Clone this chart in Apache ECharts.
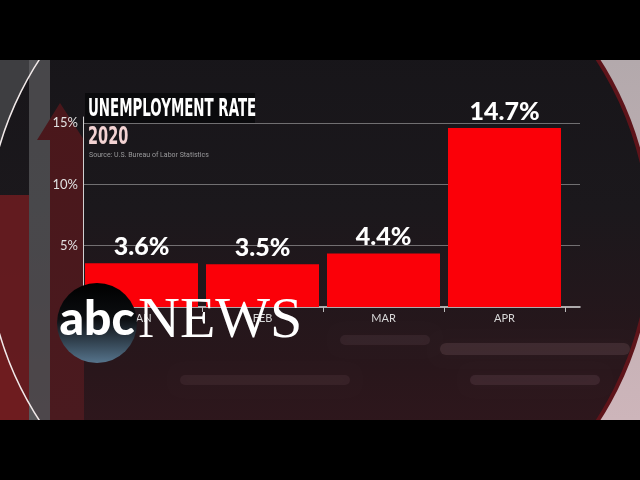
<!DOCTYPE html>
<html><head><meta charset="utf-8">
<script src="https://cdn.jsdelivr.net/npm/echarts@6/dist/echarts.min.js"></script>
<style>html,body{margin:0;padding:0;background:#000}#c{width:640px;height:480px}</style>
</head><body><div id="c"></div>
<script>
const categories = ['JAN', 'FEB', 'MAR', 'APR'];
const rates = [3.6, 3.5, 4.4, 14.7];
const yMax = 15.5;
const yInterval = 5;
const titleText = 'UNEMPLOYMENT RATE';
const yearText = '2020';
const sourceText = 'Source: U.S. Bureau of Labor Statistics';

const chart = echarts.init(document.getElementById('c'), null, {renderer: 'canvas'});

const bg = [
  {type: 'rect', z: -20, shape: {x: 0, y: 0, width: 640, height: 480}, style: {fill: '#000'}},
  {type: 'rect', z: -19, shape: {x: 0, y: 60, width: 320, height: 360}, style: {fill: '#3e3e41'}},
  {type: 'rect', z: -19, shape: {x: 320, y: 60, width: 320, height: 360}, style: {
    fill: new echarts.graphic.LinearGradient(0, 0, 0, 1, [
      {offset: 0, color: '#b3a9ac'}, {offset: 1, color: '#cdb5ba'}])}},
  {type: 'rect', z: -18, shape: {x: 0, y: 195, width: 30, height: 225}, style: {fill: '#6e1c20'}},
  {type: 'polygon', z: -18, shape: {points: [[10, 170], [-25, 210], [42, 210]]}, style: {fill: '#6e1c20'}},
  {type: 'rect', z: -18, shape: {x: 29, y: 60, width: 21, height: 360}, style: {fill: '#58585b'}},
  {type: 'circle', z: -17, shape: {cx: 318, cy: 240, r: 332}, style: {
    fill: new echarts.graphic.LinearGradient(0, 0, 0, 1, [
      {offset: 0, color: '#141317'}, {offset: 0.45, color: '#1b181c'},
      {offset: 0.7, color: '#29161b'}, {offset: 1, color: '#3c1920'}])}},
  {type: 'rect', z: -16.5, shape: {x: 29, y: 60, width: 21, height: 360}, style: {fill: 'rgba(88,88,91,0.75)'}},
  {type: 'rect', z: -16.5, shape: {x: 0, y: 195, width: 29, height: 225}, style: {fill: 'rgba(110,28,32,0.85)'}},
  {type: 'arc', z: -16, shape: {cx: 318, cy: 240, r: 332, startAngle: Math.PI * 0.55, endAngle: Math.PI * 1.45}, style: {stroke: '#f2eaea', lineWidth: 1.5, fill: null}},
  {type: 'arc', z: -16, shape: {cx: 318, cy: 240, r: 333, startAngle: -Math.PI * 0.45, endAngle: Math.PI * 0.45}, style: {stroke: '#5e141a', lineWidth: 4, fill: null}},
  {type: 'polygon', z: -15, shape: {points: [[60, 103], [37, 140], [50, 140], [50, 420], [84, 420], [84, 140], [84, 140]]}, style: {
    fill: new echarts.graphic.LinearGradient(0, 0, 0, 1, [
      {offset: 0, color: '#4a171b'}, {offset: 1, color: '#4a1a1f'}])}},
  {type: 'rect', z: -14, shape: {x: 440, y: 343, width: 190, height: 12, r: 6}, style: {fill: 'rgba(220,170,185,0.12)', shadowBlur: 12, shadowColor: 'rgba(220,170,185,0.2)'}},
  {type: 'rect', z: -14, shape: {x: 470, y: 375, width: 130, height: 10, r: 5}, style: {fill: 'rgba(220,170,185,0.10)', shadowBlur: 12, shadowColor: 'rgba(220,170,185,0.2)'}},
  {type: 'rect', z: -14, shape: {x: 340, y: 335, width: 90, height: 10, r: 5}, style: {fill: 'rgba(220,170,185,0.08)', shadowBlur: 12, shadowColor: 'rgba(220,170,185,0.15)'}},
  {type: 'rect', z: -14, shape: {x: 180, y: 375, width: 170, height: 10, r: 5}, style: {fill: 'rgba(220,170,185,0.07)', shadowBlur: 12, shadowColor: 'rgba(220,170,185,0.15)'}},
  {type: 'rect', z: -13, shape: {x: 85, y: 93, width: 170, height: 30}, style: {fill: 'rgba(8,8,10,0.85)'}},
  {type: 'rect', z: -12, shape: {x: 0, y: 0, width: 640, height: 60}, style: {fill: '#000'}},
  {type: 'rect', z: -12, shape: {x: 0, y: 420, width: 640, height: 60}, style: {fill: '#000'}}
];

const fg = [
  {type: 'text', z: 10, x: 88, y: 98, scaleX: 0.62, style: {text: titleText, fill: '#ffffff', font: 'bold 24px "Liberation Sans Narrow", "DejaVu Sans Condensed", sans-serif', verticalAlign: 'top'}},
  {type: 'text', z: 10, x: 88, y: 126, scaleX: 0.67, style: {text: yearText, fill: '#f3d3d3', font: 'bold 24px "Liberation Sans Narrow", "DejaVu Sans Condensed", sans-serif', verticalAlign: 'top'}},
  {type: 'text', z: 10, x: 89, y: 152, style: {text: sourceText, fill: '#9a9a9c', font: '7px Roboto, sans-serif', verticalAlign: 'top'}},
  {type: 'circle', z: 100, shape: {cx: 97, cy: 323, r: 40}, style: {
    fill: new echarts.graphic.LinearGradient(0, 0, 0, 1, [
      {offset: 0, color: '#000000'}, {offset: 0.45, color: '#0c0e11'}, {offset: 1, color: '#56748c'}])}},
  {type: 'text', z: 101, x: 97, y: 320, style: {text: 'abc', fill: '#ffffff', font: '900 48px Lato, sans-serif', align: 'center', verticalAlign: 'middle'}},
  {type: 'text', z: 101, x: 138, y: 322, style: {text: 'NEWS', fill: '#ffffff', font: '58px "Liberation Serif", serif', align: 'left', verticalAlign: 'middle'}}
];

chart.setOption({
  animation: false,
  grid: [
    {left: 83, right: 60, top: 117, bottom: 173, outerBoundsMode: 'none', containLabel: false},
    {left: 81, right: 75, top: 117, bottom: 173, outerBoundsMode: 'none', containLabel: false}
  ],
  xAxis: [
    {gridIndex: 0, type: 'value', min: 0, max: 1, axisLine: {show: true, onZero: false, lineStyle: {color: '#dcdcdc', width: 1.5}}, axisTick: {show: false}, axisLabel: {show: false}, splitLine: {show: false}},
    {gridIndex: 1, type: 'category', data: categories, boundaryGap: true,
      axisLine: {show: false}, axisTick: {show: true, length: 5, lineStyle: {color: '#bbbbbb'}},
      axisLabel: {color: '#d8d8d8', fontSize: 11, margin: 6, fontFamily: 'Lato, sans-serif'}, splitLine: {show: false}}
  ],
  yAxis: [
    {gridIndex: 0, type: 'value', min: 0, max: yMax, interval: yInterval,
      axisLine: {show: true, lineStyle: {color: '#d0d0d0', width: 1}}, axisTick: {show: false},
      axisLabel: {color: '#e0e0e0', fontSize: 13, margin: 5, fontFamily: 'Lato, sans-serif',
        formatter: v => (v === 0 || v % yInterval !== 0) ? '' : v + '%'},
      splitLine: {show: true, showMinLine: false, showMaxLine: false, lineStyle: {color: 'rgba(200,200,200,0.5)', width: 1}}},
    {gridIndex: 1, type: 'value', min: 0, max: 15.6, show: false, splitLine: {show: false}}
  ],
  series: [{
    type: 'bar', xAxisIndex: 1, yAxisIndex: 1, data: rates, barWidth: 113,
    itemStyle: {color: '#fb0008'},
    label: {show: true, position: 'top', distance: 4, formatter: '{c}%', color: '#ffffff',
      fontSize: 25, fontWeight: 900, fontFamily: 'Lato, sans-serif'}
  }],
  graphic: {elements: bg.concat(fg)}
});
</script></body></html>
